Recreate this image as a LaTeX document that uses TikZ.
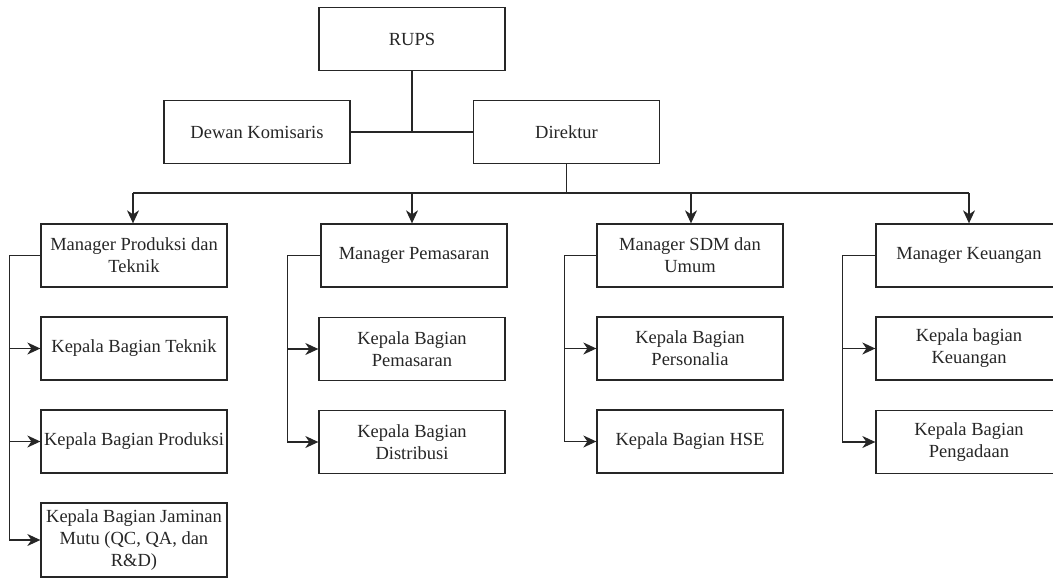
\documentclass[tikz,border=0pt]{standalone}
\usepackage{fontspec}
\setmainfont{Liberation Serif}
\usetikzlibrary{arrows.meta}
\begin{document}
\begin{tikzpicture}[x=1pt,y=-1pt,
  box/.style={draw=black!85,line width=1.3pt,minimum width=186pt,minimum height=63pt,inner sep=0pt,align=center,
    font=\fontsize{18.5}{22}\selectfont,text=black!85},
  conn/.style={draw=black!85,line width=1.3pt},
  arr/.style={conn,-{Stealth[length=13pt,width=12pt,inset=4pt]}}]
\useasboundingbox (0,0) rectangle (1053,581);
% top
\node[box] (rups) at (412,39) {RUPS};
\node[box] (dewan) at (257,132) {Dewan Komisaris};
\node[box] (dir) at (566.5,132) {Direktur};
% managers
\node[box] (m1) at (134,255.5) {Manager Produksi dan\\Teknik};
\node[box] (m2) at (414,255.5) {Manager Pemasaran};
\node[box] (m3) at (690,255.5) {Manager SDM dan\\Umum};
\node[box] (m4) at (969,255.5) {Manager Keuangan};
% column 1
\node[box] (k11) at (134,348.5) {Kepala Bagian Teknik};
\node[box] (k12) at (134,441.5) {Kepala Bagian Produksi};
\node[box,minimum height=74pt] (k13) at (134,540) {Kepala Bagian Jaminan\\Mutu (QC, QA, dan\\R\&D)};
% column 2
\node[box] (k21) at (412,349) {Kepala Bagian\\Pemasaran};
\node[box] (k22) at (412,442) {Kepala Bagian\\Distribusi};
% column 3
\node[box] (k31) at (690,348.5) {Kepala Bagian\\Personalia};
\node[box] (k32) at (690,441.5) {Kepala Bagian HSE};
% column 4
\node[box] (k41) at (969,348.5) {Kepala bagian\\Keuangan};
\node[box] (k42) at (969,442) {Kepala Bagian\\Pengadaan};
% top connectors
\coordinate (j) at (412,132);
\draw[conn] (rups.south) -- (j);
\draw[conn] (dewan.east) -- (dir.west);
% bus
\coordinate (b1) at (133,193);
\coordinate (b2) at (412,193);
\coordinate (b3) at (691,193);
\coordinate (b4) at (969,193);
\draw[conn] (dir.south) -- (dir.south |- b1);
\draw[conn] (b1) -- (b4);
\draw[arr] (b1) -- (b1 |- m1.north);
\draw[arr] (b2) -- (b2 |- m2.north);
\draw[arr] (b3) -- (b3 |- m3.north);
\draw[arr] (b4) -- (b4 |- m4.north);
% side connectors
\draw[conn] (m1.west) -- ++(-31,0) coordinate (t1) -- (t1 |- k13.west);
\draw[arr] (t1 |- k11.west) -- (k11.west);
\draw[arr] (t1 |- k12.west) -- (k12.west);
\draw[arr] (t1 |- k13.west) -- (k13.west);
\draw[conn] (m2.west) -- ++(-33,0) coordinate (t2) -- (t2 |- k22.west);
\draw[arr] (t2 |- k21.west) -- (k21.west);
\draw[arr] (t2 |- k22.west) -- (k22.west);
\draw[conn] (m3.west) -- ++(-32,0) coordinate (t3) -- (t3 |- k32.west);
\draw[arr] (t3 |- k31.west) -- (k31.west);
\draw[arr] (t3 |- k32.west) -- (k32.west);
\draw[conn] (m4.west) -- ++(-33,0) coordinate (t4) -- (t4 |- k42.west);
\draw[arr] (t4 |- k41.west) -- (k41.west);
\draw[arr] (t4 |- k42.west) -- (k42.west);
\end{tikzpicture}
\end{document}
